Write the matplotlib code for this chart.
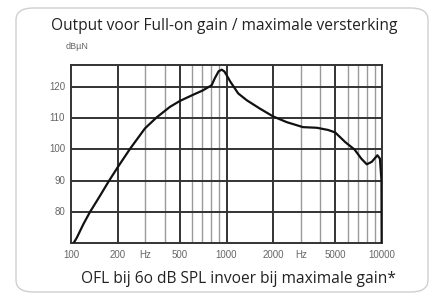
import matplotlib
matplotlib.use('Agg')
import matplotlib.pyplot as plt
from matplotlib.patches import FancyBboxPatch
import numpy as np

# curve
freq = [104, 109, 120, 132, 154, 175, 200, 240, 299, 355, 433, 502, 612, 700, 802,
        842, 890, 932, 970, 1000, 1057, 1189, 1351, 1644, 2000, 2441, 3105, 3806,
        4500, 5000, 5805, 6670, 7366, 7979, 8600, 9343, 9700, 9920, 9950]
level = [70, 71.7, 76, 79.8, 85.2, 89.8, 94.3, 100.2, 106.7, 110.2, 113.6, 115.5,
         117.5, 118.8, 120.5, 122.8, 125.0, 125.5, 124.9, 123.8, 121.7, 117.9, 115.7,
         113.0, 110.5, 108.7, 107.1, 106.9, 106.2, 105.4, 102.3, 99.9, 97.0, 95.2,
         96.0, 98.1, 97.0, 90.0, 70.0]

y_ticks = [80, 90, 100, 110, 120]
major_x = [200, 500, 1000, 2000, 5000]
minor_x = [300, 400, 600, 700, 800, 900, 3000, 4000, 6000, 7000, 8000, 9000]
x_labels = [(100, '100'), (200, '200'), (300, 'Hz'), (500, '500'), (1000, '1000'),
            (2000, '2000'), (3000, 'Hz'), (5000, '5000'), (10000, '10000')]

fig = plt.figure(figsize=(4.33, 2.96), dpi=100)

box = FancyBboxPatch((16/433, 1-292/296), 412/433, 284/296,
                     boxstyle='round,pad=0,rounding_size=0.04',
                     transform=fig.transFigure, facecolor='white',
                     edgecolor='#cfcfcf', lw=1.0, zorder=-1)
fig.patches.append(box)

ax = fig.add_axes([71/433, 1-243/296, 311/433, 178/296])
ax.set_zorder(2)
ax.patch.set_alpha(0)
ax.set_xscale('log')
ax.set_xlim(100, 10000)
ax.set_ylim(70, 127)

for x in minor_x:
    ax.axvline(x, color='#9a9a9a', lw=1.0, zorder=1)
for x in major_x:
    ax.axvline(x, color='#333333', lw=1.4, zorder=1)
for y in y_ticks:
    ax.axhline(y, color='#333333', lw=1.4, zorder=1)

ax.plot(freq, level, color='#111111', lw=1.6, zorder=3, solid_capstyle='round')

for s in ax.spines.values():
    s.set_color('#333333')
    s.set_linewidth(1.4)

ax.set_xticks([])
ax.set_yticks([])
ax.minorticks_off()

for x, t in x_labels:
    ax.text(x, 66.0, t, ha='center', va='center', fontsize=7,
            color='#666666', family='Liberation Sans')
for y in y_ticks:
    ax.text(91.5, y, str(y), ha='right', va='center', fontsize=7,
            color='#666666', family='Liberation Sans')

fig.text(66/433, 1-46.5/296, 'dBµN', ha='left', va='center', fontsize=6.5,
         color='#666666', family='Liberation Sans')
fig.text(224/433, 1-26/296, 'Output voor Full-on gain / maximale versterking',
         ha='center', va='center', fontsize=11.2, color='#222222', family='Open Sans')
fig.text(238/433, 1-279/296, 'OFL bij 6o dB SPL invoer bij maximale gain*',
         ha='center', va='center', fontsize=11.2, color='#222222', family='Open Sans')

fig.savefig('out.png', dpi=100)
